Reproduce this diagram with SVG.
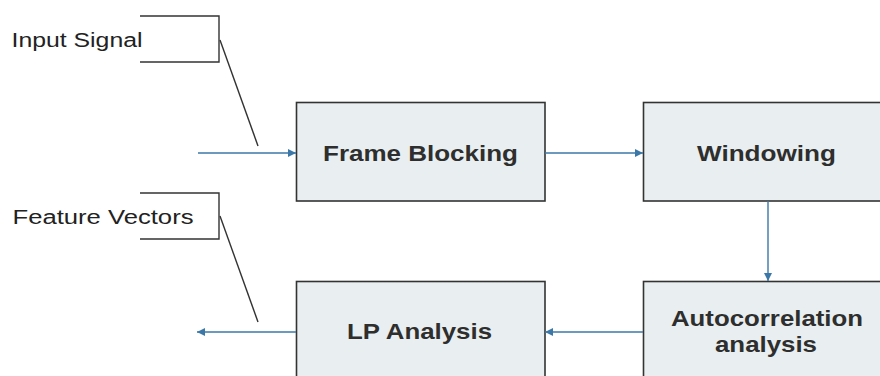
<svg xmlns="http://www.w3.org/2000/svg" width="880" height="376" viewBox="0 0 880 376">
<style>
.box{fill:#e9eef0;stroke:#333;stroke-width:1.6}
.t{font-family:"Liberation Sans",Arial,sans-serif;font-weight:bold;font-size:21.5px;fill:#2e2e2e;text-anchor:start}
.lbl{font-family:"Liberation Sans",Arial,sans-serif;font-size:20px;fill:#222}
.call{fill:none;stroke:#333;stroke-width:1.4}
.ar{fill:none;stroke:#3b78a8;stroke-width:1.4;marker-end:url(#ah)}
</style>
<defs>
<marker id="ah" viewBox="0 0 10 10" refX="10" refY="5" markerWidth="9" markerHeight="8" markerUnits="userSpaceOnUse" orient="auto">
<path d="M0,0 L10,5 L0,10 Z" fill="#3b78a8"/>
</marker>
</defs>
<rect width="880" height="376" fill="#fff"/>
<g id="callout-input">
<path class="call" d="M140,16 H219 V62 H140"/>
<line class="call" x1="220" y1="40" x2="258" y2="146"/>
<text class="lbl" x="11.5" y="47" textLength="131" lengthAdjust="spacingAndGlyphs">Input Signal</text>
</g>
<g id="callout-feature">
<path class="call" d="M140,193 H219 V239 H140"/>
<line class="call" x1="220" y1="216" x2="258" y2="322"/>
<text class="lbl" x="12.5" y="223.5" textLength="181" lengthAdjust="spacingAndGlyphs">Feature Vectors</text>
</g>
<g id="frame-blocking">
<rect class="box" x="296.5" y="102.5" width="248.5" height="98.5"/>
<text class="t" x="323" y="160.5" textLength="195" lengthAdjust="spacingAndGlyphs">Frame Blocking</text>
</g>
<g id="windowing">
<rect class="box" x="643.5" y="102.5" width="248.5" height="98.5"/>
<text class="t" x="697" y="160.5" textLength="139" lengthAdjust="spacingAndGlyphs">Windowing</text>
</g>
<g id="autocorrelation">
<rect class="box" x="643.5" y="281.5" width="248.5" height="100"/>
<text class="t" x="671" y="326" textLength="192" lengthAdjust="spacingAndGlyphs">Autocorrelation</text>
<text class="t" x="715" y="352" textLength="102" lengthAdjust="spacingAndGlyphs">analysis</text>
</g>
<g id="lp-analysis">
<rect class="box" x="296.5" y="281.5" width="248.5" height="100"/>
<text class="t" x="347" y="339" textLength="145" lengthAdjust="spacingAndGlyphs">LP Analysis</text>
</g>
<g id="connectors">
<line class="ar" x1="198" y1="153" x2="296" y2="153"/>
<line class="ar" x1="545" y1="153" x2="643" y2="153"/>
<line class="ar" x1="768" y1="201" x2="768" y2="281"/>
<line class="ar" x1="643" y1="332" x2="545" y2="332"/>
<line class="ar" x1="296" y1="332" x2="197" y2="332"/>
</g>
</svg>
